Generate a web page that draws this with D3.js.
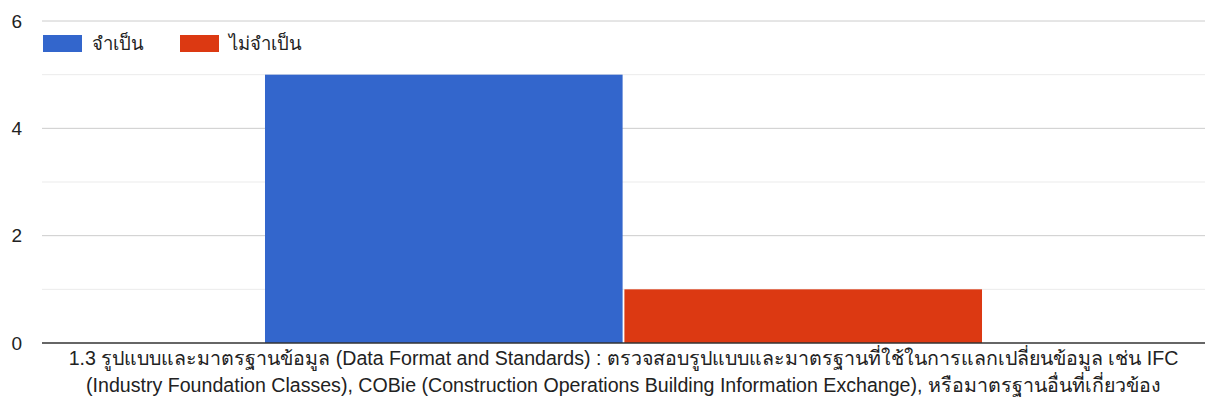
<!DOCTYPE html>
<html>
<head>
<meta charset="utf-8">
<script src="https://cdn.jsdelivr.net/npm/d3@7"></script>
<style>
  body { margin: 0; background: #fff; }
  svg { display: block; font-family: "Liberation Sans", Arial, "Noto Sans", sans-serif; }
</style>
</head>
<body>
<svg width="1211" height="407"></svg>
<script>
var categories = ['1.3 รูปแบบและมาตรฐานข้อมูล (Data Format and Standards) : ตรวจสอบรูปแบบและมาตรฐานที่ใช้ในการแลกเปลี่ยนข้อมูล เช่น IFC (Industry Foundation Classes), COBie (Construction Operations Building Information Exchange), หรือมาตรฐานอื่นที่เกี่ยวข้อง']
var categoryLines = [['1.3 รูปแบบและมาตรฐานข้อมูล (Data Format and Standards) : ตรวจสอบรูปแบบและมาตรฐานที่ใช้ในการแลกเปลี่ยนข้อมูล เช่น IFC',
                      '(Industry Foundation Classes), COBie (Construction Operations Building Information Exchange), หรือมาตรฐานอื่นที่เกี่ยวข้อง']]
var seriesNames = ['จำเป็น', 'ไม่จำเป็น']
var seriesColors = ['#3366cc', '#dc3912']
var values = [[5, 1]]
var yTicks = [0, 2, 4, 6]
var yMinor = [1, 3, 5]

var svg = d3.select('svg')
var margin = {left: 42, right: 6, top: 21, bottom: 64}
var width = 1211, height = 407

var x0 = d3.scaleBand()
    .domain(categories)
    .range([margin.left, width - margin.right])
    .paddingInner(0)
    .paddingOuter(0.311)

var x1 = d3.scaleBand()
    .domain(seriesNames)
    .range([0, x0.bandwidth()])
    .paddingInner(0.005)

var y = d3.scaleLinear()
    .domain([0, 6])
    .range([height - margin.bottom, margin.top])

// gridlines
svg.append('g')
    .selectAll('line.minor')
    .data(yMinor)
    .enter().append('line')
    .attr('x1', margin.left).attr('x2', width - margin.right)
    .attr('y1', d => y(d)).attr('y2', d => y(d))
    .style('stroke', '#ebebeb').style('stroke-width', 1)

svg.append('g')
    .selectAll('line.major')
    .data(yTicks.filter(d => d > 0))
    .enter().append('line')
    .attr('x1', margin.left).attr('x2', width - margin.right)
    .attr('y1', d => y(d)).attr('y2', d => y(d))
    .style('stroke', '#cccccc').style('stroke-width', 1)

// y labels
var yAxis = svg.append('g')
    .attr('transform', `translate(${margin.left},0)`)
    .call(d3.axisLeft(y).tickValues(yTicks).tickFormat(d3.format('d')).tickSize(0).tickPadding(20))
yAxis.select('.domain').remove()
yAxis.selectAll('text')
    .style('font-size', '19px')
    .style('fill', '#222')
    .style('font-family', '"Liberation Sans", Arial, sans-serif')

// bars
var groups = svg.append('g')
    .selectAll('g')
    .data(categories)
    .enter().append('g')
    .attr('transform', d => `translate(${x0(d)},0)`)

groups.selectAll('rect')
    .data((d, i) => seriesNames.map((s, j) => ({s: s, v: values[i][j], c: seriesColors[j]})))
    .enter().append('rect')
    .attr('x', d => x1(d.s))
    .attr('y', d => y(d.v))
    .attr('width', x1.bandwidth())
    .attr('height', d => y(0) - y(d.v))
    .style('fill', d => d.c)

// baseline
svg.append('line')
    .attr('x1', margin.left).attr('x2', width - margin.right)
    .attr('y1', y(0)).attr('y2', y(0))
    .style('stroke', '#333').style('stroke-width', 1.5)

// category label
categories.forEach((c, i) => {
    var t = svg.append('text')
        .attr('x', x0(c) + x0.bandwidth() / 2)
        .attr('y', y(0) + 22)
        .attr('text-anchor', 'middle')
        .style('font-size', '19.6px')
        .style('fill', '#222')
    categoryLines[i].forEach((line, k) => {
        t.append('tspan')
            .attr('x', x0(c) + x0.bandwidth() / 2)
            .attr('dy', k === 0 ? 0 : 27)
            .text(line)
    })
})

// legend
var legendX = [43, 180]
var legend = svg.append('g')
    .selectAll('g')
    .data(seriesNames)
    .enter().append('g')
    .attr('transform', (d, i) => `translate(${legendX[i]},35)`)

legend.append('rect')
    .attr('width', 39).attr('height', 17)
    .style('fill', (d, i) => seriesColors[i])

legend.append('text')
    .attr('x', 49).attr('y', 15)
    .style('font-size', '18.5px')
    .style('fill', '#222')
    .text(d => d)
</script>
</body>
</html>
